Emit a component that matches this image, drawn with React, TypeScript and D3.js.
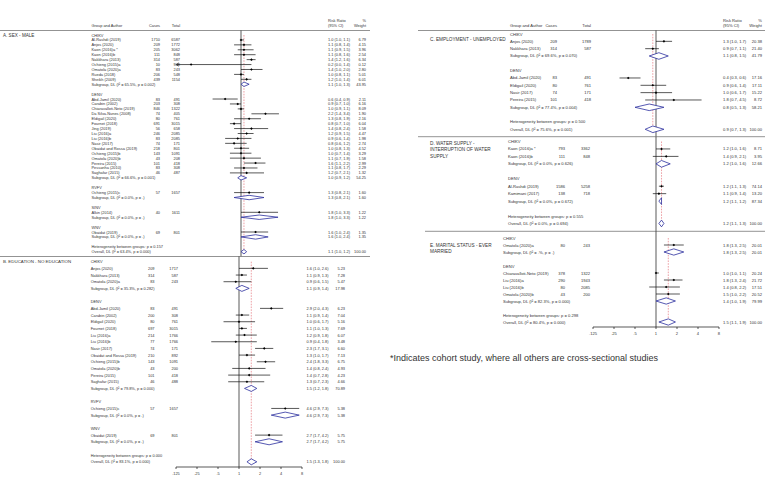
import React from 'react';
import * as d3 from 'd3';

type Study = [string, number, number, number, number, number, number];
type Pooled = [string, number, number, number, number];
type Group = [string, Study[], Pooled];

// ---------- A. SEX - MALE ----------
const maleChikv: Study[] = [
  ['Al-Rashdi (2019)', 1710, 6587, 1.0, 1.0, 1.1, 6.79],
  ['Anjos (2020)', 209, 1772, 1.1, 0.8, 1.4, 4.15],
  ['Kaon (2016)a *', 205, 3062, 1.1, 0.9, 1.5, 3.96],
  ['Kaon (2016)b', 111, 848, 1.1, 0.8, 1.6, 2.54],
  ['Nakkhara (2013)', 314, 587, 1.4, 1.2, 1.6, 6.34],
  ['Ochieng (2015)a', 10, 908, 0.2, 0.0, 1.4, 0.12],
  ['Omatola (2020)a', 83, 243, 1.4, 1.0, 2.0, 2.8],
  ['Rueda (2018)', 206, 548, 1.0, 0.8, 1.1, 5.01],
  ['Sheikh (2009)', 439, 1154, 1.2, 1.0, 1.4, 6.01],
];
const maleChikvSub: Pooled = ['Subgroup, DL (I\u00B2 = 65.5%, p = 0.002)', 1.1, 1.0, 1.3, 43.95];
const maleDenv: Study[] = [
  ['Abd-Jamil (2020)', 83, 491, 0.6, 0.4, 0.9, 2.11],
  ['Carabin (2002)', 203, 308, 0.9, 0.7, 1.0, 6.16],
  ['Chiaravalloti-Neto (2019)', 846, 1322, 1.0, 0.9, 1.1, 8.09],
  ['Da Silva-Nunes (2008)', 74, 405, 2.2, 1.4, 3.4, 1.9],
  ['Eldigail (2020)', 80, 761, 1.3, 0.8, 1.9, 2.16],
  ['Fournet (2018)', 691, 3015, 0.8, 0.7, 1.0, 6.04],
  ['Jing (2019)', 56, 658, 1.4, 0.8, 2.4, 1.58],
  ['Liu (2016)a', 246, 2085, 1.2, 0.9, 1.5, 4.47],
  ['Liu (2016)b', 83, 2085, 0.9, 0.6, 1.4, 1.98],
  ['Nasir (2017)', 74, 171, 0.8, 0.6, 1.2, 2.74],
  ['Obaidat and Rossa (2019)', 218, 801, 1.0, 0.8, 1.3, 4.52],
  ['Ochieng (2015)b', 143, 1091, 1.0, 0.7, 1.4, 3.29],
  ['Omatola (2020)b', 43, 208, 1.1, 0.7, 1.9, 1.58],
  ['Pereira (2015)', 101, 418, 1.6, 1.1, 2.2, 2.99],
  ['Pessanha (2010)', 83, 308, 1.1, 0.8, 1.7, 2.29],
  ['Saghafar (2015)', 46, 487, 1.2, 0.7, 2.1, 1.32],
];
const maleDenvSub: Pooled = ['Subgroup, DL (I\u00B2 = 66.6%, p = 0.001)', 1.0, 0.9, 1.2, 54.25];
const maleRvfv: Study[] = [['Ochieng (2015)c', 57, 1657, 1.3, 0.8, 2.1, 1.6]];
const maleRvfvSub: Pooled = ['Subgroup, DL (I\u00B2 = 0.0%, p = .)', 1.3, 0.8, 2.1, 1.6];
const maleSinv: Study[] = [['Alkin (2014)', 40, 1611, 1.8, 1.0, 3.3, 1.22]];
const maleSinvSub: Pooled = ['Subgroup, DL (I\u00B2 = 0.0%, p = .)', 1.8, 1.0, 3.3, 1.22];
const maleWnv: Study[] = [['Obaidat (2019)', 69, 801, 1.6, 1.0, 2.4, 1.35]];
const maleWnvSub: Pooled = ['Subgroup, DL (I\u00B2 = 0.0%, p = .)', 1.6, 1.0, 2.4, 1.35];
const maleHet = 'Heterogeneity between groups: p = 0.157';
const maleOverall: Pooled = ['Overall, DL (I\u00B2 = 63.4%, p = 0.000)', 1.1, 1.0, 1.2, 100.0];

// ---------- B. EDUCATION - NO EDUCATION ----------
const eduChikv: Study[] = [
  ['Anjos (2020)', 209, 1717, 1.6, 1.0, 2.6, 5.23],
  ['Nakkhara (2013)', 314, 587, 1.1, 0.9, 1.3, 7.28],
  ['Omatola (2020)a', 83, 243, 0.9, 0.6, 1.5, 5.47],
];
const eduChikvSub: Pooled = ['Subgroup, DL (I\u00B2 = 35.3%, p = 0.282)', 1.1, 0.9, 1.4, 17.98];
const eduDenv: Study[] = [
  ['Abd-Jamil (2020)', 83, 491, 2.9, 2.0, 4.3, 6.23],
  ['Carabin (2002)', 200, 308, 1.1, 0.9, 1.4, 7.04],
  ['Eldigail (2020)', 80, 761, 1.0, 0.6, 1.7, 5.16],
  ['Fournet (2018)', 697, 3015, 1.1, 1.0, 1.3, 7.69],
  ['Liu (2016)a', 214, 1766, 1.2, 0.9, 1.8, 6.07],
  ['Liu (2016)b', 77, 1766, 0.9, 0.4, 1.8, 3.48],
  ['Nasir (2017)', 74, 171, 2.3, 1.7, 3.1, 6.6],
  ['Obaidat and Rossa (2019)', 210, 892, 1.3, 1.0, 1.7, 7.13],
  ['Ochieng (2015)b', 143, 1091, 2.4, 1.8, 3.3, 6.75],
  ['Omatola (2020)b', 43, 200, 1.4, 0.8, 2.4, 4.93],
  ['Pereira (2015)', 101, 418, 1.4, 0.7, 2.8, 4.23],
  ['Saghafar (2015)', 46, 488, 1.3, 0.7, 2.3, 4.66],
];
const eduDenvSub: Pooled = ['Subgroup, DL (I\u00B2 = 79.8%, p = 0.000)', 1.5, 1.2, 1.8, 70.89];
const eduRvfv: Study[] = [['Ochieng (2015)c', 57, 1657, 4.6, 2.9, 7.3, 5.38]];
const eduRvfvSub: Pooled = ['Subgroup, DL (I\u00B2 = 0.0%, p = .)', 4.6, 2.9, 7.3, 5.38];
const eduWnv: Study[] = [['Obaidat (2019)', 69, 801, 2.7, 1.7, 4.2, 5.75]];
const eduWnvSub: Pooled = ['Subgroup, DL (I\u00B2 = 0.0%, p = .)', 2.7, 1.7, 4.2, 5.75];
const eduHet = 'Heterogeneity between groups: p = 0.000';
const eduOverall: Pooled = ['Overall, DL (I\u00B2 = 83.1%, p = 0.000)', 1.5, 1.3, 1.8, 100.0];

// ---------- C. EMPLOYMENT - UNEMPLOYED ----------
const empChikv: Study[] = [
  ['Anjos (2020)', 209, 1789, 1.3, 1.0, 1.7, 20.38],
  ['Nakkhara (2013)', 314, 587, 0.9, 0.7, 1.1, 21.4],
];
const empChikvSub: Pooled = ['Subgroup, DL (I\u00B2 = 69.6%, p = 0.070)', 1.1, 0.8, 1.5, 41.79];
const empDenv: Study[] = [
  ['Abd-Jamil (2020)', 83, 491, 0.4, 0.3, 0.6, 17.16],
  ['Eldigail (2020)', 80, 761, 0.9, 0.6, 1.4, 17.11],
  ['Nasir (2017)', 74, 171, 1.0, 0.6, 1.7, 15.22],
  ['Pereira (2015)', 101, 418, 1.8, 0.7, 4.5, 8.72],
];
const empDenvSub: Pooled = ['Subgroup, DL (I\u00B2 = 77.4%, p = 0.004)', 0.8, 0.5, 1.3, 58.21];
const empHet = 'Heterogeneity between groups: p = 0.500';
const empOverall: Pooled = ['Overall, DL (I\u00B2 = 75.6%, p = 0.001)', 0.9, 0.7, 1.3, 100.0];

// ---------- D. WATER SUPPLY ----------
const waterChikv: Study[] = [
  ['Kaon (2016)a *', 793, 3362, 1.2, 1.0, 1.6, 8.71],
  ['Kaon (2016)b', 111, 848, 1.4, 0.9, 2.1, 3.95],
];
const waterChikvSub: Pooled = ['Subgroup, DL (I\u00B2 = 0.0%, p = 0.626)', 1.2, 1.0, 1.6, 12.66];
const waterDenv: Study[] = [
  ['Al-Rashdi (2019)', 1586, 5258, 1.2, 1.1, 1.3, 74.14],
  ['Kamimani (2017)', 138, 718, 1.1, 0.9, 1.4, 13.2],
];
const waterDenvSub: Pooled = ['Subgroup, DL (I\u00B2 = 0.0%, p = 0.672)', 1.2, 1.1, 1.2, 87.34];
const waterHet = 'Heterogeneity between groups: p = 0.555';
const waterOverall: Pooled = ['Overall, DL (I\u00B2 = 0.0%, p = 0.694)', 1.2, 1.1, 1.3, 100.0];

// ---------- E. MARITAL STATUS ----------
const maritalChikv: Study[] = [['Omatola (2020)a', 80, 243, 1.8, 1.3, 2.5, 20.01]];
const maritalChikvSub: Pooled = ['Subgroup, DL (I\u00B2 = .%, p = .)', 1.8, 1.3, 2.5, 20.01];
const maritalDenv: Study[] = [
  ['Chiaravalloti-Neto (2019)', 378, 1322, 1.0, 1.0, 1.1, 20.24],
  ['Liu (2016)a', 290, 1943, 1.8, 1.3, 2.4, 21.72],
  ['Liu (2016)b', 80, 2085, 1.4, 0.8, 2.2, 17.51],
  ['Omatola (2020)b', 43, 200, 1.5, 1.0, 2.2, 20.52],
];
const maritalDenvSub: Pooled = ['Subgroup, DL (I\u00B2 = 82.3%, p = 0.000)', 1.4, 1.0, 1.9, 79.99];
const maritalHet = 'Heterogeneity between groups: p = 0.298';
const maritalOverall: Pooled = ['Overall, DL (I\u00B2 = 80.4%, p = 0.000)', 1.5, 1.1, 1.9, 100.0];

const axisTicks = [0.125, 0.25, 0.5, 1, 2, 4, 8];
const axisTickLabels = ['.125', '.25', '.5', '1', '2', '4', '8'];
const headerCols = ['Group and Author', 'Cases', 'Total', 'Risk Ratio', '(95% CI)', '%', 'Weight'];
const footnote = '*Indicates cohort study, where all others are cross-sectional studies';

const panels = [
  { title: ['A. SEX - MALE'], groups: [['CHIKV', maleChikv, maleChikvSub], ['DENV', maleDenv, maleDenvSub], ['RVFV', maleRvfv, maleRvfvSub], ['SINV', maleSinv, maleSinvSub], ['WNV', maleWnv, maleWnvSub]] as Group[], het: maleHet, overall: maleOverall },
  { title: ['B. EDUCATION - NO EDUCATION'], groups: [['CHIKV', eduChikv, eduChikvSub], ['DENV', eduDenv, eduDenvSub], ['RVFV', eduRvfv, eduRvfvSub], ['WNV', eduWnv, eduWnvSub]] as Group[], het: eduHet, overall: eduOverall },
  { title: ['C. EMPLOYMENT - UNEMPLOYED'], groups: [['CHIKV', empChikv, empChikvSub], ['DENV', empDenv, empDenvSub]] as Group[], het: empHet, overall: empOverall },
  { title: ['D. WATER SUPPLY -', 'INTERRUPTION OF WATER', 'SUPPLY'], groups: [['CHIKV', waterChikv, waterChikvSub], ['DENV', waterDenv, waterDenvSub]] as Group[], het: waterHet, overall: waterOverall },
  { title: ['E. MARITAL STATUS - EVER', 'MARRIED'], groups: [['CHIKV', maritalChikv, maritalChikvSub], ['DENV', maritalDenv, maritalDenvSub]] as Group[], het: maritalHet, overall: maritalOverall },
];

type Layout = {
  y0: number; rowH: number; font: number; labelFont: number; labelX: number; labelDy: number; labelLineH: number;
  nameX: number; casesX: number; totalX: number; x1: number; ppd: number; rrX: number; wtX: number;
  axisY?: number; topY: number; bottomY: number; sepY?: number; sepX0: number; sepX1: number;
};

const layouts: Layout[] = [
  { y0: 35, rowH: 4.925, font: 3.9, labelFont: 4.6, labelX: 3, labelDy: 0, labelLineH: 6, nameX: 91.5, casesX: 160, totalX: 180, x1: 241, ppd: 21.5, rrX: 328, wtX: 366, topY: 30.5, bottomY: 256.5, sepX0: 0, sepX1: 370 },
  { y0: 261.7, rowH: 6.67, font: 3.9, labelFont: 4.4, labelX: 3, labelDy: 0, labelLineH: 6, nameX: 90.7, casesX: 154.5, totalX: 178, x1: 239, ppd: 21, rrX: 306.5, wtX: 345, axisY: 467, topY: 256.5, bottomY: 467, sepY: 256.5, sepX0: 0, sepX1: 370 },
  { y0: 34, rowH: 7.33, font: 4.1, labelFont: 4.7, labelX: 430, labelDy: 5, labelLineH: 6.5, nameX: 510, casesX: 557, totalX: 591, x1: 656, ppd: 21, rrX: 723, wtX: 762, topY: 30.5, bottomY: 136.7, sepX0: 418, sepX1: 765 },
  { y0: 141.5, rowH: 7.45, font: 4.1, labelFont: 4.7, labelX: 430, labelDy: 1.5, labelLineH: 6.5, nameX: 508, casesX: 565, totalX: 590, x1: 656, ppd: 21, rrX: 723, wtX: 762, topY: 136.7, bottomY: 231.3, sepY: 136.7, sepX0: 418, sepX1: 765 },
  { y0: 238, rowH: 7.0, font: 4.1, labelFont: 4.7, labelX: 430, labelDy: 7, labelLineH: 6.5, nameX: 503, casesX: 565, totalX: 590, x1: 656, ppd: 21, rrX: 723, wtX: 762, axisY: 327, topY: 231.3, bottomY: 327, sepY: 231.3, sepX0: 425, sepX1: 765 },
];

const TEXT = '#333';
const BLUE = '#2b2f9e';
const RED = '#e0626a';
const FONT = 'Liberation Sans, Arial, sans-serif';

type Row = { kind: 'group' | 'study' | 'sub' | 'het' | 'overall' | 'blank'; label: string; s?: Study; p?: Pooled };

function buildRows(panel: typeof panels[number]): Row[] {
  const rows: Row[] = [];
  panel.groups.forEach(([virus, studies, sub]) => {
    rows.push({ kind: 'group', label: virus });
    studies.forEach((s) => rows.push({ kind: 'study', label: s[0], s }));
    rows.push({ kind: 'sub', label: sub[0], p: sub });
    rows.push({ kind: 'blank', label: '' });
  });
  rows.push({ kind: 'het', label: panel.het });
  rows.push({ kind: 'overall', label: panel.overall[0], p: panel.overall });
  return rows;
}

const fmtCI = (rr: number, lo: number, hi: number) => `${rr.toFixed(1)} (${lo.toFixed(1)}, ${hi.toFixed(1)})`;

function Panel({ panel, L }: { panel: typeof panels[number]; L: Layout }) {
  const rows = buildRows(panel);
  const x = d3.scaleLog().domain([0.125, 8]).range([L.x1 - 3 * L.ppd, L.x1 + 3 * L.ppd]);
  const y = (i: number) => L.y0 + i * L.rowH;
  const overallIdx = rows.length - 1;
  const ov = panel.overall;
  const dh = L.rowH * 0.45;
  const els: React.ReactNode[] = [];
  rows.forEach((r, i) => {
    const yy = y(i);
    if (r.kind === 'blank') return;
    els.push(
      <text key={`l${i}`} x={L.nameX} y={yy} fontSize={L.font} fill={TEXT} dominantBaseline="central">{r.label}</text>
    );
    if (r.kind === 'study' && r.s) {
      const [, cases, total, rr, lo, hi, wt] = r.s;
      const loC = Math.max(lo, 0.125);
      const xl = x(loC);
      els.push(<text key={`c${i}`} x={L.casesX} y={yy} fontSize={L.font} fill={TEXT} textAnchor="end" dominantBaseline="central">{cases}</text>);
      els.push(<text key={`t${i}`} x={L.totalX} y={yy} fontSize={L.font} fill={TEXT} textAnchor="end" dominantBaseline="central">{total}</text>);
      els.push(<line key={`ci${i}`} x1={xl} x2={x(Math.min(hi, 8))} y1={yy} y2={yy} stroke="#111" strokeWidth={0.7} />);
      if (lo < 0.125) {
        els.push(<path key={`ar${i}`} d={`M${xl + 2.2},${yy - 1.6} L${xl},${yy} L${xl + 2.2},${yy + 1.6}`} fill="none" stroke="#111" strokeWidth={0.7} />);
      }
      const px = x(rr);
      els.push(<path key={`pt${i}`} d={`M${px - 1.3},${yy} L${px},${yy - 1.3} L${px + 1.3},${yy} L${px},${yy + 1.3} Z`} fill="#000" />);
      els.push(<text key={`rr${i}`} x={L.rrX} y={yy} fontSize={L.font} fill={TEXT} dominantBaseline="central">{fmtCI(rr, lo, hi)}</text>);
      els.push(<text key={`w${i}`} x={L.wtX} y={yy} fontSize={L.font} fill={TEXT} textAnchor="end" dominantBaseline="central">{wt.toFixed(2)}</text>);
    }
    if ((r.kind === 'sub' || r.kind === 'overall') && r.p) {
      const [, rr, lo, hi, wt] = r.p;
      const d = `M${x(lo)},${yy} L${x(rr)},${yy - dh} L${x(hi)},${yy} L${x(rr)},${yy + dh} Z`;
      els.push(<path key={`dm${i}`} d={d} fill="#fff" stroke={BLUE} strokeWidth={0.8} />);
      els.push(<text key={`rr${i}`} x={L.rrX} y={yy} fontSize={L.font} fill={TEXT} dominantBaseline="central">{fmtCI(rr, lo, hi)}</text>);
      els.push(<text key={`w${i}`} x={L.wtX} y={yy} fontSize={L.font} fill={TEXT} textAnchor="end" dominantBaseline="central">{wt.toFixed(2)}</text>);
    }
  });
  return (
    <g>
      {L.sepY !== undefined && <line x1={L.sepX0} x2={L.sepX1} y1={L.sepY} y2={L.sepY} stroke="#777" strokeWidth={0.8} />}
      <line x1={x(1)} x2={x(1)} y1={L.topY} y2={L.bottomY} stroke="#111" strokeWidth={0.7} />
      <line x1={x(ov[1])} x2={x(ov[1])} y1={y(0)} y2={y(overallIdx) + dh} stroke={RED} strokeWidth={0.6} strokeDasharray="1.6,1.2" />
      {panel.title.map((t, k) => (
        <text key={`ti${k}`} x={L.labelX} y={L.y0 + L.labelDy + k * L.labelLineH} fontSize={L.labelFont} fill={TEXT} dominantBaseline="central">{t}</text>
      ))}
      {els}
      {L.axisY !== undefined && (
        <g>
          <line x1={x(0.125)} x2={x(8)} y1={L.axisY} y2={L.axisY} stroke="#111" strokeWidth={0.7} />
          {axisTicks.map((t, k) => (
            <g key={`tk${k}`}>
              <line x1={x(t)} x2={x(t)} y1={L.axisY} y2={L.axisY + 2} stroke="#111" strokeWidth={0.7} />
              <text x={x(t)} y={L.axisY + 6} fontSize={L.font} fill={TEXT} textAnchor="middle" dominantBaseline="central">{axisTickLabels[k]}</text>
            </g>
          ))}
        </g>
      )}
    </g>
  );
}

function Header({ L, y }: { L: Layout; y: number }) {
  const f = L.font;
  return (
    <g fontSize={f} fill={TEXT}>
      <text x={L.nameX} y={y + 5.5} dominantBaseline="central">{headerCols[0]}</text>
      <text x={L.casesX} y={y + 5.5} textAnchor="end" dominantBaseline="central">{headerCols[1]}</text>
      <text x={L.totalX} y={y + 5.5} textAnchor="end" dominantBaseline="central">{headerCols[2]}</text>
      <text x={L.rrX} y={y} dominantBaseline="central">{headerCols[3]}</text>
      <text x={L.rrX} y={y + 5.5} dominantBaseline="central">{headerCols[4]}</text>
      <text x={L.wtX} y={y} textAnchor="end" dominantBaseline="central">{headerCols[5]}</text>
      <text x={L.wtX} y={y + 5.5} textAnchor="end" dominantBaseline="central">{headerCols[6]}</text>
    </g>
  );
}

export default function App() {
  return (
    <svg width={775} height={488} style={{ position: 'absolute', left: 0, top: 0, background: '#fff' }} fontFamily={FONT}>
      <rect width={775} height={488} fill="#fff" />
      <Header L={layouts[0]} y={20} />
      <Header L={layouts[2]} y={20} />
      <line x1={0} x2={370} y1={30.5} y2={30.5} stroke="#777" strokeWidth={0.8} />
      <line x1={418} x2={765} y1={30.5} y2={30.5} stroke="#777" strokeWidth={0.8} />
      {panels.map((p, i) => <Panel key={i} panel={p} L={layouts[i]} />)}
      <text x={390} y={358} fontSize={9} fill={TEXT} fontFamily={FONT} dominantBaseline="central">{footnote}</text>
    </svg>
  );
}
